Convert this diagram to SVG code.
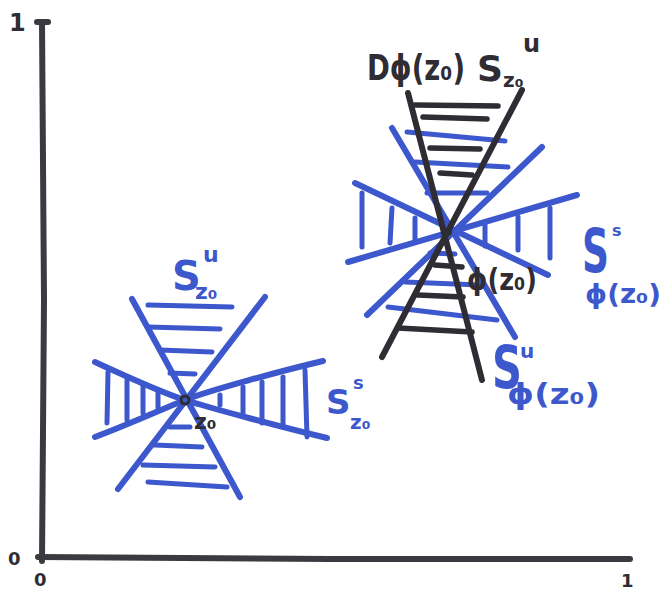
<svg xmlns="http://www.w3.org/2000/svg" width="663" height="592" viewBox="0 0 663 592">
<style>
.b{stroke:#3d58cc;stroke-width:6;stroke-linecap:round;fill:none}
.h{stroke:#3d58cc;stroke-width:5;stroke-linecap:round;fill:none}
.k{stroke:#2f2d33;stroke-width:6;stroke-linecap:round;fill:none}
.kh{stroke:#2f2d33;stroke-width:5.5;stroke-linecap:round;fill:none}
.ax{stroke:#3b3a40;stroke-width:6;stroke-linecap:round;fill:none}
.tb{font-family:"DejaVu Sans",sans-serif;font-weight:bold;fill:#3d58cc}
.tk{font-family:"DejaVu Sans",sans-serif;font-weight:bold;fill:#2f2d33}
</style>
<rect width="663" height="592" fill="#ffffff"/>
<g id="axes">
<path class="ax" d="M42,22 L44,300 L42,561"/>
<path class="ax" d="M37,22 L48,22"/>
<path class="ax" d="M38,557 L330,559 L630,559"/>
<text class="tk" x="9" y="31" font-size="24">1</text>
<text class="tk" x="8" y="565" font-size="18">0</text>
<text class="tk" x="34" y="586" font-size="18">0</text>
<text class="tk" x="621" y="587" font-size="18">1</text>
</g>
<g id="z0">
<path class="b" d="M132,299 L240,497"/>
<path class="b" d="M265,297 L118,489"/>
<path class="b" d="M95,362 C130,378 160,392 185,400 S285,428 327,438"/>
<path class="b" d="M95,437 C130,424 160,410 185,400 S285,370 323,361"/>
<path class="h" d="M148,305 L232,307 M148,327 L220,329 M160,350 L212,352 M170,373 L195,374"/>
<path class="h" d="M170,427 L190,427 M155,445 L202,447 M143,465 L215,467 M148,482 L227,487"/>
<path class="h" d="M108,372 L107,423 M127,380 L127,420 M143,385 L143,413 M158,392 L158,408"/>
<path class="h" d="M220,395 L220,405 M243,387 L243,415 M262,382 L262,423 M283,377 L283,427 M305,370 L307,437"/>
<circle cx="185" cy="400" r="4" fill="none" stroke="#2f2d33" stroke-width="3"/>
<text class="tk" x="194" y="429" font-size="22">z₀</text>
<text class="tb" x="172" y="290" font-size="40">S<tspan x="203" y="262" font-size="22">u</tspan><tspan x="195" y="299" font-size="22">z₀</tspan></text>
<text class="tb" x="326" y="414" font-size="34">S<tspan x="353" y="389" font-size="18">s</tspan><tspan x="350" y="429" font-size="20">z₀</tspan></text>
</g>
<g id="phi-z0">
<path class="b" d="M392,128 L515,337"/>
<path class="b" d="M542,147 L367,315"/>
<path class="b" d="M355,183 L548,275"/>
<path class="b" d="M577,195 L348,262"/>
<path class="h" d="M407,132 L505,141 M415,162 L508,167 M427,193 L487,193"/>
<path class="h" d="M430,253 L455,254 M405,282 L480,285 M388,307 L497,320"/>
<path class="h" d="M362,193 L362,247 M392,208 L390,243 M415,218 L415,240"/>
<path class="h" d="M485,224 L485,246 M518,217 L518,250 M550,208 L550,258"/>
<path class="k" d="M408,93 L482,380"/>
<path class="k" d="M522,90 L382,357"/>
<path class="kh" d="M415,105 L498,106 M423,117 L487,119 M430,148 L480,149 M440,173 L472,175"/>
<path class="kh" d="M435,265 L462,267 M418,295 L463,297 M398,328 L472,332"/>
<circle cx="448" cy="232" r="4" fill="#2f2d33"/>
<text class="tk" x="367" y="80" font-size="36"><tspan textLength="98" lengthAdjust="spacingAndGlyphs">Dϕ(z₀)</tspan><tspan x="477" y="81">S</tspan><tspan x="503" y="87" font-size="20">z₀</tspan><tspan x="523" y="52" font-size="24">u</tspan></text>
<text class="tk" x="467" y="290" font-size="30" textLength="70" lengthAdjust="spacingAndGlyphs">ϕ(z₀)</text>
<text class="tb" x="582" y="272" font-size="60"><tspan textLength="27" lengthAdjust="spacingAndGlyphs">S</tspan><tspan x="612" y="236" font-size="16">s</tspan><tspan x="585" y="303" font-size="26" textLength="76" lengthAdjust="spacingAndGlyphs">ϕ(z₀)</tspan></text>
<text class="tb" x="492" y="388" font-size="58"><tspan textLength="30" lengthAdjust="spacingAndGlyphs">S</tspan><tspan x="520" y="358" font-size="20">u</tspan><tspan x="507" y="404" font-size="28" textLength="93" lengthAdjust="spacingAndGlyphs">ϕ(z₀)</tspan></text>
</g>
</svg>
